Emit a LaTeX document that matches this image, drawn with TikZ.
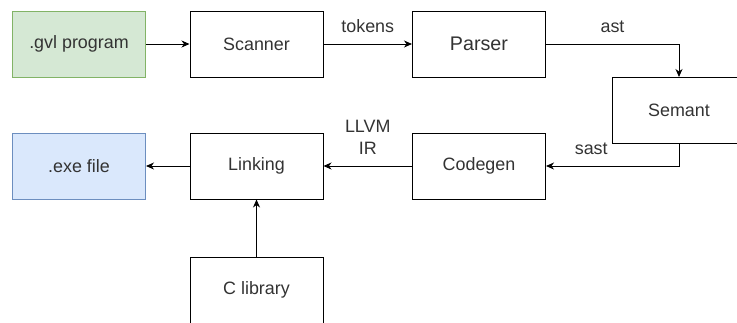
\documentclass[tikz,border=0pt]{standalone}
\usepackage{fontspec}
\setmainfont{Liberation Sans}
\usetikzlibrary{arrows.meta, positioning}
\definecolor{srcgreen}{RGB}{213, 232, 212}
\definecolor{srcgreenline}{RGB}{130, 179, 102}
\definecolor{exeblue}{RGB}{218, 232, 252}
\definecolor{exeblueline}{RGB}{108, 142, 191}

\begin{document}
\begin{tikzpicture}[x=1pt, y=-1pt,
  stage/.style={draw, line width=1pt, minimum width=133pt, minimum height=66pt, text=black!80, font=\fontsize{17.9}{22}\selectfont},
  flow/.style={-{Stealth[length=8pt, width=7pt, inset=2.5pt]}, line width=1pt},
  lbl/.style={above=11pt, inner sep=0pt, align=center, text=black!80, font=\fontsize{17.9}{22}\selectfont}
]
  \useasboundingbox (0,0) rectangle (737,322);

  % front end
  \node[stage, fill=srcgreen, draw=srcgreenline] (gvl) at (79, 44) {.gvl program};
  \node[stage] (scanner) at (256.5, 44) {Scanner};
  \node[stage, font=\fontsize{19.7}{22}\selectfont] (parser) at (479, 44) {Parser};
  \node[stage] (semant) at (679, 110.5) {Semant};

  % back end
  \node[stage] (codegen) at (479, 166) {Codegen};
  \node[stage] (linking) at (256.5, 166) {Linking};
  \node[stage, fill=exeblue, draw=exeblueline] (exe) at (79, 166) {.exe file};
  \node[stage] (clib) at (256.5, 290) {C library};

  \draw[flow] (gvl) -- (scanner);
  \draw[flow] (scanner) -- node[lbl] {tokens} (parser);
  \draw[flow] (parser) -| node[lbl, pos=0.25] {ast} (semant);
  \draw[flow] (semant) |- node[lbl, pos=0.83] {sast} (codegen);
  \draw[flow] (codegen) -- node[lbl] {LLVM\\IR} (linking);
  \draw[flow] (linking) -- (exe);
  \draw[flow] (clib) -- (linking);
\end{tikzpicture}
\end{document}
